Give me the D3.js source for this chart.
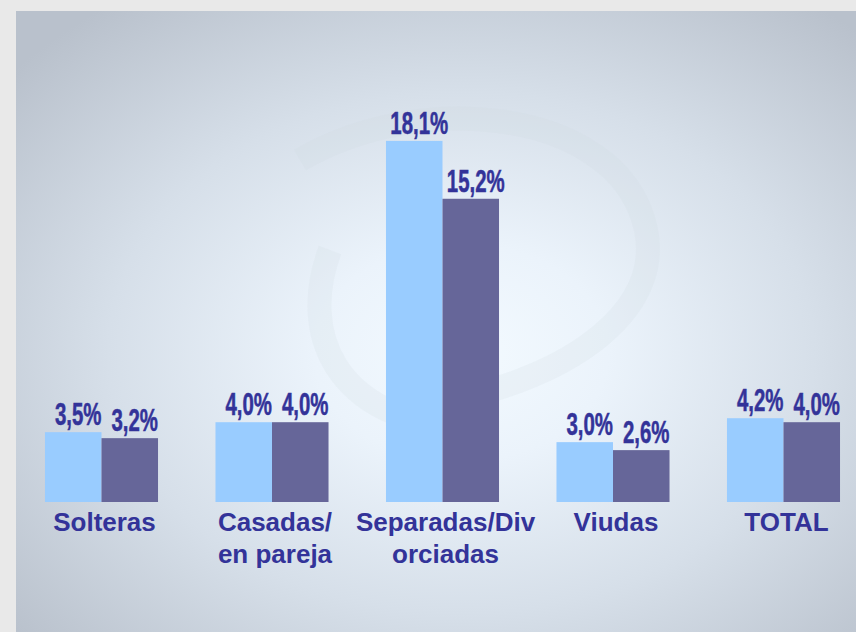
<!DOCTYPE html>
<html>
<head>
<meta charset="utf-8">
<script src="https://cdn.jsdelivr.net/npm/d3@7"></script>
<style>
  html, body { margin: 0; padding: 0; background: #e9e9e9; }
  svg { display: block; }
</style>
</head>
<body>
<script>
const width = 856;
const height = 632;

// chart data
const categories = ["Solteras", "Casadas/\nen pareja", "Separadas/Div\norciadas", "Viudas", "TOTAL"];
const series = ["s1", "s2"];
const valuesA = [3.5, 4.0, 18.1, 3.0, 4.2];
const valuesB = [3.2, 4.0, 15.2, 2.6, 4.0];
const labelsA = ["3,5%", "4,0%", "18,1%", "3,0%", "4,2%"];
const labelsB = ["3,2%", "4,0%", "15,2%", "2,6%", "4,0%"];

const colors = ["#99ccff", "#666699"];
const textColor = "#333399";

const rows = categories.map((c, i) => ({
    cat: c,
    vals: [
        { key: "s1", v: valuesA[i], label: labelsA[i] },
        { key: "s2", v: valuesB[i], label: labelsB[i] }
    ]
}));

const svg = d3.select(document.body).append("svg")
    .attr("width", width)
    .attr("height", height);

const defs = svg.append("defs");
const grad = defs.append("radialGradient")
    .attr("id", "panelGrad")
    .attr("cx", "0.53").attr("cy", "0.55")
    .attr("r", "0.7");
grad.append("stop").attr("offset", "0%").attr("stop-color", "#f3faff");
grad.append("stop").attr("offset", "25%").attr("stop-color", "#ebf3fb");
grad.append("stop").attr("offset", "60%").attr("stop-color", "#d6dfe9");
grad.append("stop").attr("offset", "100%").attr("stop-color", "#b9c1cc");

// outer frame
svg.append("rect")
    .attr("width", width).attr("height", height)
    .attr("fill", "#e9e9e9");

svg.append("rect")
    .attr("x", 16).attr("y", 11)
    .attr("width", width - 16).attr("height", height - 11)
    .attr("fill", "url(#panelGrad)");

// faint watermark swirl
const wm = svg.append("g")
    .attr("fill", "none")
    .attr("stroke", "#cdd6e0")
    .attr("stroke-opacity", 0.18)
    .attr("stroke-width", 24);
wm.append("path").attr("d", "M300,160 C420,90 600,110 640,210 C680,310 560,380 450,400");
wm.append("path").attr("d", "M330,250 C300,330 330,420 470,430");

const x0 = d3.scaleBand()
    .domain(categories)
    .range([16.25, 868.75])
    .paddingInner(0.337)
    .paddingOuter(0.1685);

const x1 = d3.scaleBand()
    .domain(series)
    .range([0, x0.bandwidth()]);

const y = d3.scaleLinear()
    .domain([0, 20])
    .range([502, 103]);

const groups = svg.append("g")
    .selectAll("g")
    .data(rows)
    .join("g")
    .attr("transform", d => `translate(${x0(d.cat)},0)`);

groups.selectAll("rect")
    .data(d => d.vals)
    .join("rect")
    .attr("x", d => x1(d.key))
    .attr("y", d => y(d.v))
    .attr("width", x1.bandwidth())
    .attr("height", d => y(0) - y(d.v))
    .attr("fill", (d, i) => colors[i]);

// value labels (condensed bold)
groups.selectAll("text.val")
    .data(d => d.vals)
    .join("text")
    .attr("class", "val")
    .attr("transform", d => `translate(${x1(d.key) + x1.bandwidth() / 2 + 5},${y(d.v) - 7}) scale(0.68,1.03)`)
    .attr("text-anchor", "middle")
    .attr("font-family", "Liberation Sans, Arial, sans-serif")
    .attr("font-weight", "bold")
    .attr("font-size", 30)
    .attr("fill", textColor)
    .attr("stroke", textColor)
    .attr("stroke-width", 0.5)
    .text(d => d.label);

// category labels
const catText = groups.append("text")
    .attr("x", x0.bandwidth() / 2)
    .attr("y", 531)
    .attr("text-anchor", "middle")
    .attr("font-family", "Liberation Sans, Arial, sans-serif")
    .attr("font-weight", "bold")
    .attr("font-size", 26)
    .attr("fill", textColor);

catText.selectAll("tspan")
    .data(d => d.cat.split("\n"))
    .join("tspan")
    .attr("x", x0.bandwidth() / 2 + 3)
    .attr("dy", (d, i) => i === 0 ? 0 : 32)
    .text(d => d);
</script>
</body>
</html>
